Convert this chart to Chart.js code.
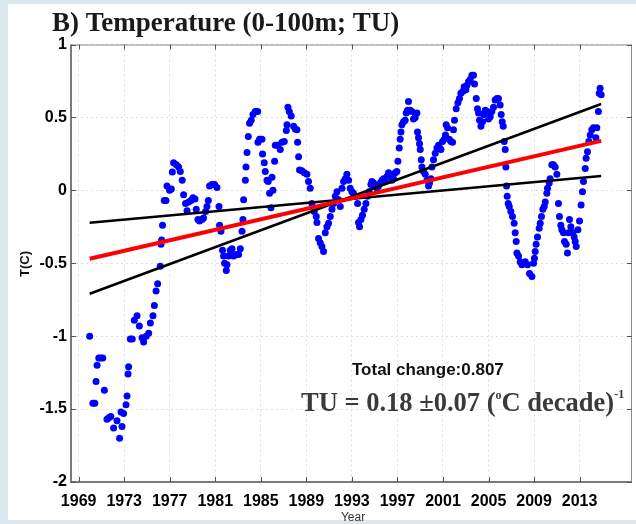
<!DOCTYPE html>
<html lang="en">
<head>
  <meta charset="UTF-8">
  <title>Temperature (0-100m; TU)</title>
  <script src="https://cdn.jsdelivr.net/npm/chart.js"></script>
  <style>
    html, body { margin: 0; padding: 0; background: #dbe7ed; }
    #wrap { width: 636px; height: 524px; }
  </style>
</head>
<body>
  <div id="wrap"><canvas id="tempChart" width="636" height="524"></canvas></div>

  <script>
    const years = [
      1969.97, 1970.25, 1970.42, 1970.53, 1970.62, 1970.77, 1970.95, 1971.12, 1971.26, 1971.49,
      1971.65, 1971.83, 1972.07, 1972.37, 1972.60, 1972.72, 1972.81, 1972.95, 1973.16, 1973.25,
      1973.34, 1973.39, 1973.54, 1973.71, 1973.89, 1974.13, 1974.33, 1974.57, 1974.71, 1974.94,
      1975.15, 1975.30, 1975.53, 1975.65, 1975.80, 1975.94, 1976.17, 1976.23, 1976.29, 1976.37,
      1976.52, 1976.67, 1976.76, 1976.99, 1977.14, 1977.23, 1977.34, 1977.58, 1977.78, 1977.93,
      1978.10, 1978.22, 1978.39, 1978.52, 1978.66, 1978.87, 1979.04, 1979.22, 1979.33, 1979.48,
      1979.62, 1979.83, 1979.97, 1980.15, 1980.27, 1980.39, 1980.50, 1980.71, 1980.94, 1981.15,
      1981.33, 1981.38, 1981.50, 1981.64, 1981.73, 1981.82, 1981.97, 1982.03, 1982.17, 1982.32,
      1982.47, 1982.61, 1982.85, 1983.05, 1983.20, 1983.35, 1983.43, 1983.49, 1983.64, 1983.70,
      1983.79, 1983.90, 1984.01, 1984.16, 1984.31, 1984.51, 1984.72, 1984.75, 1984.89, 1985.10,
      1985.15, 1985.30, 1985.39, 1985.54, 1985.65, 1985.77, 1985.89, 1985.98, 1986.07, 1986.21,
      1986.27, 1986.47, 1986.71, 1986.86, 1987.06, 1987.24, 1987.30, 1987.38, 1987.50, 1987.67,
      1987.88, 1988.03, 1988.17, 1988.23, 1988.32, 1988.40, 1988.61, 1988.82, 1989.05, 1989.19,
      1989.34, 1989.49, 1989.69, 1989.87, 1989.93, 1990.07, 1990.22, 1990.37, 1990.51, 1990.66,
      1990.81, 1990.95, 1991.10, 1991.25, 1991.39, 1991.54, 1991.69, 1991.83, 1991.98, 1992.13,
      1992.27, 1992.42, 1992.56, 1992.71, 1992.85, 1993.00, 1993.14, 1993.29, 1993.50, 1993.58,
      1993.67, 1993.79, 1993.93, 1994.08, 1994.23, 1994.37, 1994.52, 1994.67, 1994.76, 1994.90,
      1995.05, 1995.20, 1995.34, 1995.49, 1995.64, 1995.78, 1995.93, 1996.08, 1996.22, 1996.37,
      1996.52, 1996.66, 1996.81, 1996.95, 1997.04, 1997.16, 1997.24, 1997.31, 1997.39, 1997.53,
      1997.68, 1997.77, 1997.89, 1997.97, 1998.12, 1998.27, 1998.41, 1998.56, 1998.71, 1998.76,
      1998.85, 1998.94, 1999.00, 1999.09, 1999.15, 1999.29, 1999.44, 1999.59, 1999.73, 1999.82,
      1999.94, 2000.03, 2000.17, 2000.32, 2000.47, 2000.61, 2000.70, 2000.82, 2000.96, 2001.11,
      2001.22, 2001.28, 2001.40, 2001.55, 2001.70, 2001.84, 2001.92, 2002.01, 2002.16, 2002.31,
      2002.45, 2002.57, 2002.75, 2002.86, 2003.01, 2003.10, 2003.24, 2003.39, 2003.54, 2003.68,
      2003.77, 2003.92, 2004.03, 2004.12, 2004.21, 2004.33, 2004.47, 2004.56, 2004.71, 2004.86,
      2005.00, 2005.15, 2005.29, 2005.44, 2005.58, 2005.73, 2005.87, 2006.02, 2006.11, 2006.20,
      2006.29, 2006.38, 2006.46, 2006.52, 2006.58, 2006.64, 2006.73, 2006.82, 2006.96, 2007.10,
      2007.25, 2007.34, 2007.43, 2007.49, 2007.63, 2007.78, 2007.93, 2008.07, 2008.22, 2008.42,
      2008.60, 2008.81, 2008.95, 2009.03, 2009.10, 2009.18, 2009.30, 2009.45, 2009.54, 2009.65,
      2009.77, 2009.89, 2009.98, 2010.12, 2010.18, 2010.33, 2010.41, 2010.56, 2010.70, 2010.85,
      2011.00, 2011.14, 2011.23, 2011.35, 2011.44, 2011.58, 2011.67, 2011.82, 2011.93, 2012.02,
      2012.11, 2012.23, 2012.41, 2012.52, 2012.61, 2012.70, 2012.85, 2012.99, 2013.13, 2013.25,
      2013.34, 2013.49, 2013.57, 2013.69, 2013.81, 2013.93, 2014.07, 2014.21, 2014.43, 2014.51,
      2014.65, 2014.72, 2014.80, 2014.89
    ];
    const temps = [
      -1.00, -1.46, -1.46, -1.31, -1.20, -1.15, -1.15, -1.15, -1.37, -1.57,
      -1.56, -1.55, -1.63, -1.58, -1.70, -1.52, -1.62, -1.53, -1.47, -1.41,
      -1.26, -1.21, -1.02, -1.02, -0.89, -0.86, -0.93, -1.01, -1.04, -1.00,
      -0.98, -0.91, -0.86, -0.79, -0.69, -0.64, -0.52, -0.37, -0.34, -0.24,
      -0.07, -0.07, 0.03, 0.00, 0.01, 0.125, 0.19, 0.175, 0.16, 0.13,
      0.07, -0.03, -0.09, -0.14, -0.08, -0.07, -0.05, -0.06, -0.13, -0.20,
      -0.21, -0.20, -0.19, -0.145, -0.11, -0.07, 0.03, 0.04, 0.04, 0.02,
      -0.11, -0.24, -0.28, -0.41, -0.45, -0.50, -0.55, -0.51, -0.45, -0.41,
      -0.40, -0.45, -0.44, -0.44, -0.40, -0.28, -0.20, -0.065, 0.07, 0.16,
      0.26, 0.37, 0.46, 0.48, 0.52, 0.54, 0.54, 0.33, 0.35, 0.35,
      0.25, 0.19, 0.13, 0.07, 0.06, -0.02, -0.12, 0.09, 0.00, 0.20,
      0.31, 0.31, 0.28, 0.33, 0.335, 0.41, 0.45, 0.57, 0.54, 0.51,
      0.44, 0.42, 0.415, 0.33, 0.23, 0.14, 0.135, 0.12, 0.11, 0.06,
      0.015, -0.09, -0.145, -0.18, -0.22, -0.33, -0.36, -0.385, -0.42, -0.29,
      -0.25, -0.225, -0.18, -0.13, -0.09, -0.04, -0.01, -0.065, -0.11, 0.015,
      0.06, 0.08, 0.11, 0.07, 0.015, -0.01, -0.02, -0.04, -0.09, -0.22,
      -0.25, -0.20, -0.17, -0.13, -0.09, -0.04, -0.01, 0.04, 0.06, 0.05,
      0.03, 0.015, 0.03, 0.05, 0.07, 0.08, 0.06, 0.095, 0.12, 0.11,
      0.07, 0.08, 0.12, 0.13, 0.20, 0.29, 0.35, 0.40, 0.45, 0.47,
      0.48, 0.53, 0.55, 0.61, 0.55, 0.54, 0.49, 0.50, 0.53, 0.40,
      0.36, 0.32, 0.28, 0.21, 0.16, 0.13, 0.11, 0.07, 0.03, 0.05,
      0.08, 0.16, 0.21, 0.255, 0.29, 0.31, 0.29, 0.28, 0.335, 0.35,
      0.38, 0.45, 0.43, 0.35, 0.335, 0.33, 0.415, 0.48, 0.56, 0.60,
      0.63, 0.665, 0.68, 0.71, 0.69, 0.72, 0.745, 0.76, 0.79, 0.79,
      0.73, 0.63, 0.56, 0.53, 0.48, 0.44, 0.47, 0.52, 0.55, 0.54,
      0.49, 0.505, 0.54, 0.57, 0.62, 0.63, 0.63, 0.585, 0.52, 0.47,
      0.44, 0.335, 0.28, 0.16, 0.03, -0.04, -0.09, -0.11, -0.145, -0.18,
      -0.225, -0.29, -0.35, -0.43, -0.45, -0.49, -0.51, -0.50, -0.49, -0.51,
      -0.57, -0.59, -0.50, -0.465, -0.42, -0.37, -0.32, -0.26, -0.225, -0.18,
      -0.13, -0.11, -0.08, -0.02, 0.015, 0.05, 0.08, 0.175, 0.175, 0.16,
      0.11, -0.09, -0.18, -0.24, -0.27, -0.29, -0.35, -0.37, -0.43, -0.29,
      -0.20, -0.25, -0.29, -0.32, -0.35, -0.385, -0.27, -0.21, -0.10, -0.01,
      0.06, 0.15, 0.22, 0.265, 0.335, 0.38, 0.415, 0.43, 0.36, 0.43,
      0.54, 0.665, 0.70, 0.655
    ];

    // linear trend and the two bounding slopes (end values)
    const trendYears = [1969.97, 2014.89];
    const trendMid = [-0.469, 0.339];
    const trendLow = [-0.222, 0.099];   // gentle slope
    const trendHigh = [-0.709, 0.592];  // steep slope

    const xTicks = [1969, 1973, 1977, 1981, 1985, 1989, 1993, 1997, 2001, 2005, 2009, 2013];
    const xMin = 1968.33, xMax = 2017.6;

    const pts = (xs, ys) => xs.map((v, i) => ({ x: v, y: ys[i] }));

    // frame, inner ticks, titles and text boxes (MATLAB look)
    const decor = {
      id: 'decor',
      beforeDraw(chart) {
        const c = chart.ctx;
        c.save();
        c.fillStyle = '#dbe7ed';
        c.fillRect(0, 0, chart.width, chart.height);
        c.fillStyle = '#ffffff';
        c.fillRect(8, 4, chart.width - 8, chart.height - 8);
        c.restore();
      },
      afterDraw(chart) {
        const c = chart.ctx;
        const a = chart.chartArea;
        const xs = chart.scales.x, ys = chart.scales.y;
        c.save();

        // axes box
        c.strokeStyle = '#8c8c8c';
        c.lineWidth = 1;
        c.strokeRect(a.left + 0.5, a.top + 0.5, a.width - 1, a.height - 1);
        c.strokeStyle = '#7a7a7a';
        c.lineWidth = 2;
        c.beginPath();
        c.moveTo(a.left, a.top);
        c.lineTo(a.left, a.bottom);
        c.lineTo(a.right, a.bottom);
        c.stroke();

        // inward tick marks
        c.strokeStyle = '#555';
        c.lineWidth = 1;
        c.beginPath();
        xs.ticks.forEach(t => {
          const px = Math.round(xs.getPixelForValue(t.value)) + 0.5;
          c.moveTo(px, a.bottom); c.lineTo(px, a.bottom - 5);
          c.moveTo(px, a.top); c.lineTo(px, a.top + 5);
        });
        ys.ticks.forEach(t => {
          const py = Math.round(ys.getPixelForValue(t.value)) + 0.5;
          c.moveTo(a.left, py); c.lineTo(a.left + 5, py);
          c.moveTo(a.right, py); c.lineTo(a.right - 5, py);
        });
        c.stroke();

        // title
        c.fillStyle = '#1a1a1a';
        c.textBaseline = 'alphabetic';
        c.textAlign = 'left';
        c.font = 'bold 27px "Liberation Serif", "Times New Roman", serif';
        c.fillText('B) Temperature (0-100m; TU)', 52, 31);

        // axis titles
        c.font = 'bold 13px "Liberation Sans", Arial, sans-serif';
        c.fillStyle = '#111';
        c.save();
        c.translate(29, 264);
        c.rotate(-Math.PI / 2);
        c.textAlign = 'center';
        c.fillText('T(C)', 0, 0);
        c.restore();
        c.font = '12px "Liberation Sans", Arial, sans-serif';
        c.fillStyle = '#333';
        c.textAlign = 'center';
        c.fillText('Year', 353, 521);

        // annotations
        c.textAlign = 'left';
        c.fillStyle = '#111';
        c.font = 'bold 17px "Liberation Sans", Arial, sans-serif';
        c.fillText('Total change:0.807', 352, 375);

        c.fillStyle = '#3a3a3a';
        let x = 301;
        const base = 411;
        const big = 'bold 26.5px "Liberation Serif", "Times New Roman", serif';
        const sup = 'bold 12px "Liberation Serif", "Times New Roman", serif';
        c.font = big;
        c.fillText('TU = 0.18 \u00B10.07 (', x, base);
        x += c.measureText('TU = 0.18 \u00B10.07 (').width;
        c.font = sup;
        c.fillText('o', x, base - 12);
        x += c.measureText('o').width;
        c.font = big;
        c.fillText('C decade)', x, base);
        x += c.measureText('C decade)').width;
        c.font = sup;
        c.fillText('-1', x, base - 13);

        c.restore();
      }
    };

    const ctx = document.getElementById('tempChart').getContext('2d');
    new Chart(ctx, {
      type: 'scatter',
      data: {
        datasets: [
          {
            data: pts(trendYears, trendMid),
            showLine: true, borderColor: '#ff0000', borderWidth: 4,
            pointRadius: 0, fill: false
          },
          {
            data: pts(trendYears, trendLow),
            showLine: true, borderColor: '#000000', borderWidth: 2.5,
            pointRadius: 0, fill: false
          },
          {
            data: pts(trendYears, trendHigh),
            showLine: true, borderColor: '#000000', borderWidth: 2.5,
            pointRadius: 0, fill: false
          },
          {
            data: pts(years, temps),
            pointRadius: 3.5, pointBackgroundColor: '#0000ff',
            pointBorderWidth: 0, borderColor: '#0000ff'
          }
        ]
      },
      options: {
        responsive: false,
        animation: false,
        events: [],
        layout: { padding: { left: 0, right: 4, top: 44.5, bottom: 0 } },
        plugins: { legend: { display: false }, tooltip: { enabled: false } },
        scales: {
          x: {
            type: 'linear', min: xMin, max: xMax,
            afterBuildTicks: s => { s.ticks = xTicks.map(v => ({ value: v })); },
            afterFit: s => { s.height = 42; },
            ticks: {
              color: '#000', padding: 10, maxRotation: 0,
              font: { family: '"Liberation Sans", Arial, sans-serif', size: 16, weight: 'bold' },
              callback: v => String(v)
            },
            grid: { color: '#dedede', drawTicks: false },
            border: { display: false, dash: [2, 3] }
          },
          y: {
            min: -2, max: 1,
            afterFit: s => { s.width = 71; },
            ticks: {
              stepSize: 0.5, color: '#000', padding: 4,
              font: { family: '"Liberation Sans", Arial, sans-serif', size: 16, weight: 'bold' },
              callback: v => String(Math.round(v * 10) / 10)
            },
            grid: { color: '#dedede', drawTicks: false },
            border: { display: false, dash: [2, 3] }
          }
        }
      },
      plugins: [decor]
    });
  </script>
</body>
</html>
